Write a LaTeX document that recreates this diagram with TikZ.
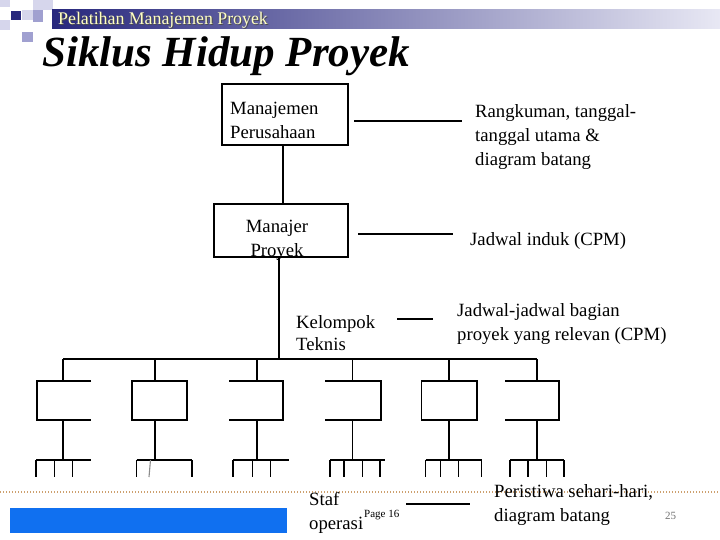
\documentclass[tikz,border=0pt]{standalone}
\usepackage{fontspec}
\setmainfont{Liberation Serif}
\begin{document}
\begin{tikzpicture}[x=1pt,y=-1pt,
  ln/.style={line width=1.1pt,black},
  boxn/.style={draw,line width=1.1pt,inner sep=0pt,rectangle},
  txt/.style={anchor=base west,inner sep=0pt,font=\fontsize{18.7}{24}\selectfont},
  txtc/.style={anchor=base,inner sep=0pt,font=\fontsize{18.7}{24}\selectfont}]
\definecolor{navy}{RGB}{40,40,125}
\definecolor{lav}{RGB}{232,232,244}
\definecolor{sq1}{RGB}{214,214,236}
\definecolor{sq2}{RGB}{160,160,208}
\definecolor{dotc}{RGB}{205,160,110}
\definecolor{bluebar}{RGB}{16,112,240}
\definecolor{hdtxt}{RGB}{255,255,196}
\useasboundingbox (0,0) rectangle (720,540);
\fill[white] (0,0) rectangle (720,540);
% header decoration
\fill[sq1] (0,0) rectangle (10,7);
\fill[sq1] (33,0) rectangle (53,10);
\fill[sq1] (22,10) rectangle (33,20);
\fill[sq2] (33,10) rectangle (43,22);
\fill[sq1] (0,20) rectangle (10,30);
\fill[sq2] (22,32) rectangle (33,42);
\fill[navy] (11,11) rectangle (21,20);
\shade[left color=navy,right color=lav] (52,10) rectangle (720,29);
\node[anchor=base west,inner sep=0pt,text=black!70,font=\fontsize{17.8}{20}\selectfont] (hds) at (59,26) {Pelatihan Manajemen Proyek};
\node[anchor=base west,inner sep=0pt,text=hdtxt,font=\fontsize{17.8}{20}\selectfont] (hd) at (58,25) {Pelatihan Manajemen Proyek};
\node[anchor=base west,inner sep=0pt,font=\fontsize{43}{48}\selectfont\bfseries\itshape] (title) at (42,67) {Siklus Hidup Proyek};
% top boxes
\node[boxn,minimum width=126pt,minimum height=61pt] (mp) at (285,114.5) {};
\node[txt] (mp1) at (230,115) {Manajemen};
\node[txt] (mp2) at (230,139) {Perusahaan};
\node[boxn,minimum width=134pt,minimum height=53pt] (pm) at (281,230.5) {};
\node[txtc] (pm1) at (277,233) {Manajer};
\node[txtc] (pm2) at (277,256) {Proyek};
\draw[ln] (mp.south -| 283,0) -- (pm.north -| 283,0);
\coordinate (trunk) at (279,359);
\draw[ln] (pm.south -| 279,0) -- (trunk);
% right texts and connectors
\coordinate (r1a) at (354,121); \coordinate (r1b) at (462,121);
\draw[ln] (r1a) -- (r1b);
\node[txt] (rk1) at (475,118) {Rangkuman, tanggal-};
\node[txt] (rk2) at (475,142) {tanggal utama \&};
\node[txt] (rk3) at (475,166) {diagram batang};
\coordinate (r2a) at (358,234); \coordinate (r2b) at (453,234);
\draw[ln] (r2a) -- (r2b);
\node[txt] (ji) at (470,245) {Jadwal induk (CPM)};
\node[txt] (kt1) at (296,328) {Kelompok};
\node[txt] (kt2) at (296,350) {Teknis};
\coordinate (r3a) at (397,319); \coordinate (r3b) at (433,319);
\draw[ln] (r3a) -- (r3b);
\node[txt] (jj1) at (457,316) {Jadwal-jadwal bagian};
\node[txt] (jj2) at (457,340) {proyek yang relevan (CPM)};
% main bar
\coordinate (barL) at (63,359); \coordinate (barR) at (537,359);
\draw[ln] (barL) -- (barR);
% second level boxes
\draw[ln] (91,381) -- (37,381) -- (37,420) -- (91,420);
\node[boxn,minimum width=55pt,minimum height=39pt] (b2) at (159.5,400.5) {};
\draw[ln] (229,381) -- (283,381) -- (283,420) -- (229,420);
\draw[ln] (325,381) -- (381,381) -- (381,420) -- (325,420);
\node[boxn,minimum width=55.3pt,minimum height=39pt] (b5) at (449.35,400.5) {};
\draw[ln] (505,381) -- (559,381) -- (559,420) -- (505,420);
\foreach \x in {63,155,257,352.7,449,537}{
  \draw[ln] (\x,359) -- (\x,381);
  \draw[ln] (\x,420) -- (\x,460);
}
% third level
\draw[ln] (36,460) -- (91,460);
\foreach \x in {36,54.3,72.3} \draw[ln] (\x,460) -- (\x,477);
\draw[ln] (136.7,460) -- (192,460);
\foreach \x in {136.7,192} \draw[ln] (\x,460) -- (\x,477);
\draw[line width=1.1pt,black!45] (150.5,460) -- (149,477);
\draw[ln] (233,460) -- (289,460);
\foreach \x in {233,252.5,270.7} \draw[ln] (\x,460) -- (\x,477);
\draw[ln] (330,460) -- (385,460);
\foreach \x in {330,344,362.7,380} \draw[ln] (\x,460) -- (\x,477);
\draw[ln] (425.7,460) -- (481.7,460);
\foreach \x in {425.7,440.7,458.7,481.7} \draw[ln] (\x,460) -- (\x,477);
\draw[ln] (510,460) -- (564,460);
\foreach \x in {510,528,546.7,564} \draw[ln] (\x,460) -- (\x,477);
% footer
\coordinate (dotL) at (0,492); \coordinate (dotR) at (720,492);
\draw[dotc,line width=1.3pt,dash pattern=on 1.3pt off 1.7pt] (dotL) -- (dotR);
\fill[bluebar] (10,508) rectangle (287,533);
\node[txt] (sf1) at (309,505) {Staf};
\node[txt] (sf2) at (309,529) {operasi};
\node[anchor=base west,inner sep=0pt,font=\fontsize{11}{12}\selectfont] (pg) at (364,517) {Page 16};
\coordinate (r4a) at (406,504); \coordinate (r4b) at (470,504);
\draw[ln] (r4a) -- (r4b);
\node[txt] (pe1) at (494,497) {Peristiwa sehari-hari,};
\node[txt] (pe2) at (494,521) {diagram batang};
\node[anchor=base west,inner sep=0pt,text=black!55,font=\fontsize{11}{12}\selectfont] (num) at (665,519) {25};
\end{tikzpicture}
\end{document}
